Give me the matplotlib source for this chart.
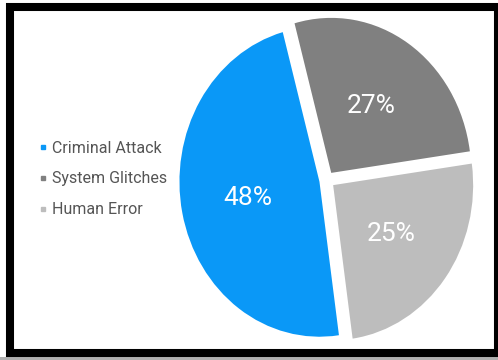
import matplotlib
matplotlib.use("Agg")
import matplotlib.pyplot as plt
from matplotlib.lines import Line2D
from matplotlib.patches import Rectangle

plt.rcParams['font.family'] = ['Roboto', 'DejaVu Sans']

labels = ["Criminal Attack", "System Glitches", "Human Error"]
shares = [48, 27, 25]
colors = ["#0a98f7", "#808080", "#bdbdbd"]

W, H = 498, 360
fig = plt.figure(figsize=(W / 100, H / 100), dpi=100)
fig.patch.set_facecolor("white")

# pie centre ~ (327,180) px, rx ~140 px, ry ~155 px
cx, cy, rx, ry = 327, 180, 140, 155
lim = 1.15
ax = fig.add_axes([(cx - rx * lim) / W, (H - cy - ry * lim) / H,
                   2 * rx * lim / W, 2 * ry * lim / H])
wedges, texts, autotexts = ax.pie(
    shares, colors=colors, explode=[0.055, 0.055, 0.055],
    startangle=-82, counterclock=False,
    autopct=lambda p: f"{p:.0f}%", pctdistance=0.52,
    wedgeprops=dict(linewidth=0),
    textprops=dict(color="white", fontsize=19))
ax.set_aspect("auto")
ax.set_xlim(-lim, lim)
ax.set_ylim(-lim, lim)

handles = [Line2D([], [], marker="s", linestyle="", markersize=3.5,
                  markerfacecolor=c, markeredgecolor=c) for c in colors]
fig.legend(handles, labels, loc="center left", bbox_to_anchor=(26 / W, 1 - 179 / H),
           frameon=False, fontsize=11.5, labelcolor="#555555",
           handlelength=0.3, handletextpad=0.45, labelspacing=1.0)

# black frame and grey shadow line
fig.add_artist(Rectangle((0, 0), 1, 3 / H, transform=fig.transFigure,
                         facecolor="#b0b0b0", edgecolor="none"))
fig.add_artist(Rectangle((10 / W, 1 - 353 / H), 488 / W, 346 / H,
                         transform=fig.transFigure, fill=False,
                         edgecolor="black", linewidth=5.8))

fig.savefig("out.png", dpi=100)
